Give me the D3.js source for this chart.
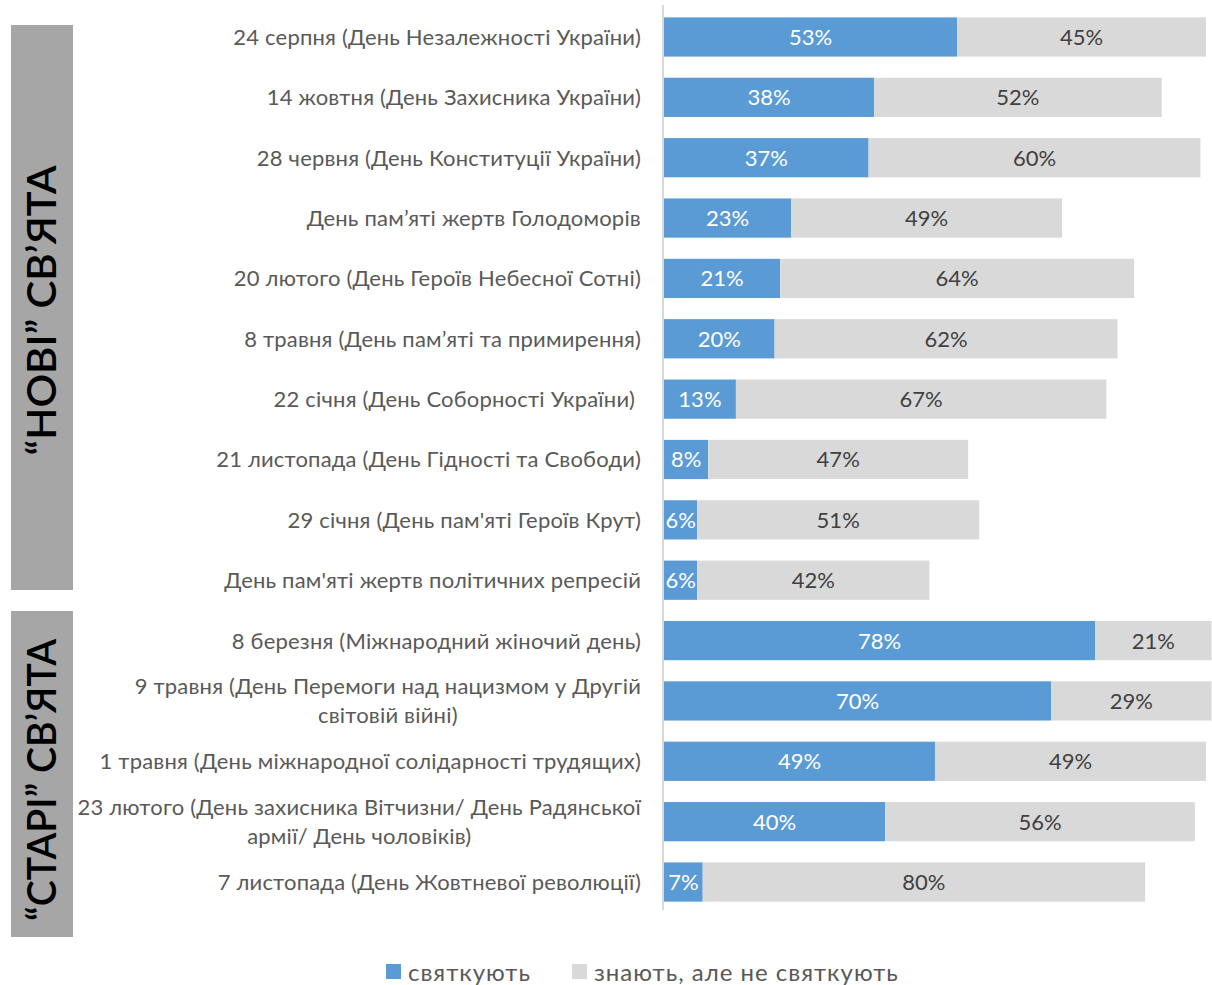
<!DOCTYPE html>
<html>
<head>
<meta charset="utf-8">
<script src="https://cdn.jsdelivr.net/npm/d3@7"></script>
<style>
  html, body { margin: 0; padding: 0; background: #ffffff; }
  svg { display: block; }
  text { font-family: Lato, "Open Sans", sans-serif; }
</style>
</head>
<body>
<svg id="chart" width="1212" height="985"></svg>
<script>
// Holidays: line breaks mark where long labels wrap
const categories = [
  "24 серпня (День Незалежності України)",
  "14 жовтня (День Захисника України)",
  "28 червня (День Конституції України)",
  "День пам’яті жертв Голодоморів",
  "20 лютого (День Героїв Небесної Сотні)",
  "8 травня (День пам’яті та примирення)",
  "22 січня (День Соборності України)\u00a0",
  "21 листопада (День Гідності та Свободи)",
  "29 січня (День пам'яті Героїв Крут)",
  "День пам'яті жертв політичних репресій",
  "8 березня (Міжнародний жіночий день)",
  "9 травня (День Перемоги над нацизмом у Другій\nсвітовій війні)",
  "1 травня (День міжнародної солідарності трудящих)",
  "23 лютого (День захисника Вітчизни/ День Радянської\nармії/ День чоловіків)",
  "7 листопада (День Жовтневої революції)"
];
const celebrate = [53, 38, 37, 23, 21, 20, 13, 8, 6, 6, 78, 70, 49, 40, 7];
const knowOnly  = [45, 52, 60, 49, 64, 62, 67, 47, 51, 42, 21, 29, 49, 56, 80];
const seriesNames = ["святкують", "знають, але не святкують"];
const groupNames = ["“НОВІ” СВ’ЯТА", "“СТАРІ” СВ’ЯТА"];

const colors = ["#5b9bd5", "#d9d9d9"];
const labelColors = ["#ffffff", "#404040"];

const svg = d3.select("#chart");

const x = d3.scaleLinear().domain([0, 100]).range([664, 1217]);
const y = d3.scaleBand()
  .domain(categories)
  .range([6.8, 912.2])
  .paddingInner(0.35)
  .paddingOuter(0.175);

// stacked rows
const rows = categories.map((c, i) => ({ cat: c, values: [celebrate[i], knowOnly[i]] }));
const stack = d3.stack().keys([0, 1]).value((d, k) => d.values[k]);
const layers = stack(rows);

const layerG = svg.selectAll("g.layer").data(layers).join("g").attr("class", "layer");

layerG.selectAll("rect")
  .data((L, li) => L.map(s => ({ s, li })))
  .join("rect")
  .attr("x", d => x(d.s[0]))
  .attr("width", d => x(d.s[1]) - x(d.s[0]))
  .attr("y", d => y(d.s.data.cat))
  .attr("height", y.bandwidth())
  .attr("fill", d => colors[d.li]);

layerG.selectAll("text")
  .data((L, li) => L.map(s => ({ s, li })))
  .join("text")
  .attr("x", d => (x(d.s[0]) + x(d.s[1])) / 2)
  .attr("y", d => y(d.s.data.cat) + y.bandwidth() / 2)
  .attr("dy", "0.36em")
  .attr("text-anchor", "middle")
  .attr("font-size", 22)
  .attr("fill", d => labelColors[d.li])
  .text(d => (d.s[1] - d.s[0]) + "%");

// category axis line
const axis = d3.axisLeft(y).tickSize(0).tickFormat("");
const axG = svg.append("g").attr("transform", "translate(663,0)").call(axis);
axG.select(".domain").attr("stroke", "#d9d9d9").attr("stroke-width", 2)
  .attr("d", "M0,5V910");

// category labels, wrapped lines centred on each other, block right-aligned
const labG = svg.append("g");
categories.forEach(c => {
  const lines = c.split("\n");
  const cy = y(c) + y.bandwidth() / 2;
  const lh = 29;
  const t = labG.append("text")
    .attr("font-size", 22)
    .attr("letter-spacing", 0.2)
    .attr("fill", "#595959")
    .attr("text-anchor", "middle");
  const spans = lines.map((ln, k) => t.append("tspan")
      .attr("x", 0)
      .attr("y", cy + (k - (lines.length - 1) / 2) * lh)
      .attr("dy", "0.36em")
      .text(ln));
  const w = d3.max(spans, s => s.node().getComputedTextLength());
  spans.forEach(s => s.attr("x", 641 - w / 2));
});

// group boxes with vertical titles
const boxes = [[25, 590], [611, 937]];
const titleLen = [290, 282];
groupNames.forEach((g, gi) => {
  const [y0, y1] = boxes[gi];
  svg.append("rect")
    .attr("x", 11).attr("y", y0).attr("width", 62).attr("height", y1 - y0)
    .attr("fill", "#a6a6a6");
  const cx = 42, cy = (y0 + y1) / 2 + (gi === 0 ? 3 : 6);
  svg.append("text")
    .attr("transform", `translate(${cx},${cy}) rotate(-90)`)
    .attr("text-anchor", "middle")
    .attr("dy", "0.36em")
    .attr("font-size", 40)
    .attr("font-weight", 600)
    .attr("textLength", titleLen[gi])
    .attr("lengthAdjust", "spacingAndGlyphs")
    .attr("fill", "#000000")
    .text(g);
});

// legend
const legend = svg.append("g");
const legX = [386, 572];
seriesNames.forEach((n, i) => {
  legend.append("rect")
    .attr("x", legX[i]).attr("y", 964).attr("width", 15).attr("height", 15)
    .attr("fill", colors[i]);
  legend.append("text")
    .attr("x", legX[i] + 22).attr("y", 972)
    .attr("dy", "0.36em")
    .attr("font-size", 24)
    .attr("letter-spacing", 1)
    .attr("fill", "#595959")
    .text(n);
});
</script>
</body>
</html>
